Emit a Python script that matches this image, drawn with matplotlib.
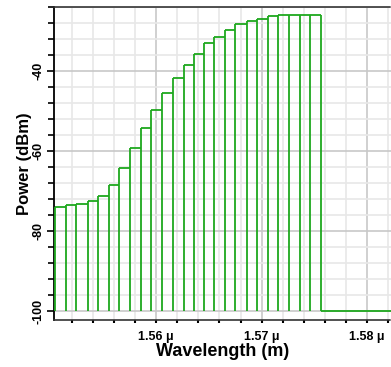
import matplotlib
matplotlib.use("Agg")
import matplotlib.pyplot as plt
from matplotlib.ticker import MultipleLocator, FixedLocator, FixedFormatter

plt.rcParams["font.family"] = ["Liberation Sans", "DejaVu Sans"]
plt.rcParams["axes.unicode_minus"] = False

# Channel bin edges (wavelength, m in micro units) and power per bin (dBm)
edges = [1.5504, 1.5514, 1.5524, 1.5535, 1.5545, 1.5555, 1.5565, 1.5575,
         1.5585, 1.5595, 1.5605, 1.5616, 1.5626, 1.5636, 1.5645, 1.5655,
         1.5665, 1.5675, 1.5686, 1.5696, 1.5706, 1.5716, 1.5726, 1.5736,
         1.5746, 1.5756]
power = [-74.1, -73.5, -73.25, -72.4, -71.2, -68.4, -64.2, -59.3, -54.3,
         -49.8, -45.6, -41.75, -38.5, -35.7, -33.1, -31.4, -29.8, -28.3,
         -27.6, -26.9, -26.3, -25.9, -25.9, -25.9, -25.9]
floor_level = -100
floor_end = 1.59

x_major = [1.56, 1.57, 1.58]
x_labels = ["1.56 \u03bc", "1.57 \u03bc", "1.58 \u03bc"]
y_major = [-100, -80, -60, -40]

W, H = 391, 367
fig = plt.figure(figsize=(W / 100, H / 100), dpi=100)
ax = fig.add_axes([54 / W, 47 / H, 337 / W, 313 / H])

green = "#1ea81e"
lw = 1.3
# top of each bin
ax.hlines(power, edges[:-1], edges[1:], color=green, lw=lw, zorder=3)
# vertical drop lines at each edge
tops = []
for i in range(len(edges)):
    left = power[i - 1] if i > 0 else power[0]
    right = power[i] if i < len(power) else power[-1]
    tops.append(max(left, right))
ax.vlines(edges, floor_level, tops, color=green, lw=lw, zorder=3)
# floor after last channel
ax.hlines(floor_level, edges[-1], floor_end, color=green, lw=lw, zorder=3)

ax.set_xlim(1.550286, 1.582286)
ax.set_ylim(-102.25, -24)

ax.xaxis.set_major_locator(FixedLocator(x_major))
ax.xaxis.set_major_formatter(FixedFormatter(x_labels))
ax.xaxis.set_minor_locator(MultipleLocator(0.002))
ax.yaxis.set_major_locator(FixedLocator(y_major))
ax.yaxis.set_minor_locator(MultipleLocator(4))

ax.grid(which="major", color="#c8c8c8", lw=1.2)
ax.grid(which="minor", color="#e8e8e8", lw=1.2)
ax.set_axisbelow(True)

for lab in ax.get_xticklabels():
    lab.set_fontweight("bold")
    lab.set_fontsize(9)
for lab in ax.get_yticklabels():
    lab.set_fontweight("bold")
    lab.set_fontsize(9)
    lab.set_rotation(90)
    lab.set_va("center")

ax.tick_params(axis="y", which="major", direction="out", length=5, width=1.2, pad=2)
ax.tick_params(axis="y", which="minor", direction="out", length=4, width=1.2)
ax.tick_params(axis="x", which="both", direction="out", length=2, width=1.5, pad=6)

ax.spines["right"].set_visible(False)
ax.spines["left"].set_linewidth(1.3)
ax.spines["left"].set_color("black")
for s in ("top", "bottom"):
    ax.spines[s].set_linestyle((0, (1.5, 1)))
    ax.spines[s].set_linewidth(1.2)
    ax.spines[s].set_color("#333333")

ax.set_xlabel("Wavelength (m)", fontsize=13, fontweight="bold", labelpad=0)
ax.set_ylabel("Power (dBm)", fontsize=12, fontweight="bold", labelpad=0)

fig.savefig("out.png", dpi=100)
